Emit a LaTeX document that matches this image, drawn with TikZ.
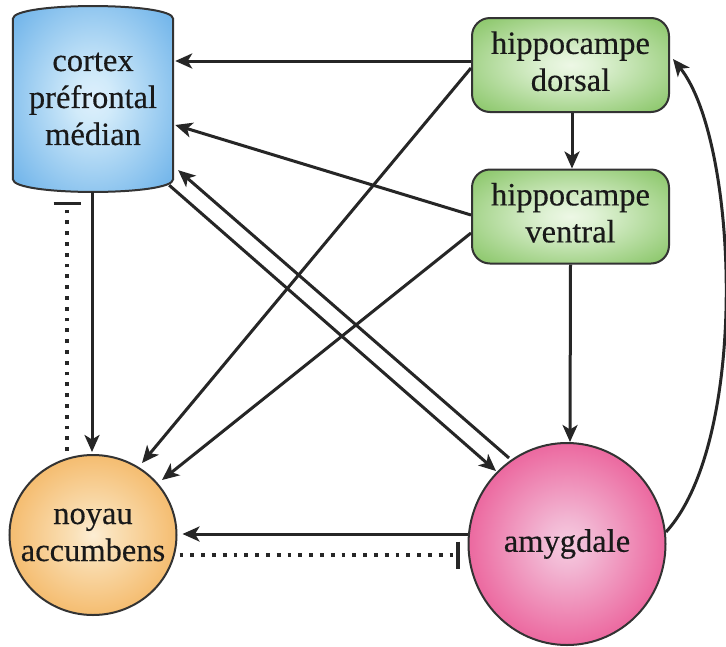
\documentclass[tikz,border=0pt]{standalone}
\usepackage{fontspec}
\setmainfont{Liberation Serif}
\newfontfamily\heavyserif{Liberation Serif}[FakeBold=0.35]
\usetikzlibrary{arrows.meta,shapes.geometric,calc,backgrounds}
\pgfdeclareradialshading{shblue}{\pgfpoint{0bp}{0bp}}{rgb(0bp)=(0.87,0.94,0.99);rgb(6bp)=(0.82,0.92,0.98);rgb(40bp)=(0.34,0.65,0.90);rgb(70bp)=(0.26,0.57,0.86)}
\pgfdeclareradialshading{shgreen}{\pgfpoint{0bp}{0bp}}{rgb(0bp)=(0.93,0.97,0.90);rgb(6bp)=(0.88,0.95,0.84);rgb(40bp)=(0.47,0.74,0.32);rgb(70bp)=(0.40,0.68,0.26)}
\pgfdeclareradialshading{shorange}{\pgfpoint{0bp}{0bp}}{rgb(0bp)=(0.99,0.93,0.83);rgb(6bp)=(0.98,0.88,0.72);rgb(44bp)=(0.94,0.60,0.16);rgb(50bp)=(0.92,0.56,0.12)}
\pgfdeclareradialshading{shpink}{\pgfpoint{0bp}{0bp}}{rgb(0bp)=(0.97,0.80,0.88);rgb(6bp)=(0.95,0.72,0.83);rgb(44bp)=(0.90,0.10,0.42);rgb(50bp)=(0.88,0.06,0.38)}
\begin{document}
\begin{tikzpicture}[x=1pt,y=-1pt,
  txt/.style={font=\heavyserif\fontsize{32.5}{37}\selectfont, text=black!90, align=center},
  shapebox/.style={inner sep=0pt, draw=black!80, line width=2pt},
  hippo/.style={txt, shapebox, rectangle, rounded corners=18pt, minimum width=197pt, minimum height=94pt, shading=shgreen},
  conn/.style={line width=3pt, draw=black!85, -{Stealth[length=17pt,width=15pt,inset=4.5pt]}},
  inh/.style={line width=3.8pt, draw=black!85, dash pattern=on 3.8pt off 7pt, -{Bar[width=27pt,line width=3.2pt]}}]
\useasboundingbox (0,0) rectangle (726,646);
\node[txt, inner sep=0pt, minimum width=160pt, minimum height=186pt] (cortex) at (93,99) {cortex\\préfrontal\\médian};
\begin{scope}[on background layer]
\fill[white] (0,0) rectangle (726,646);
\shade[shading=shblue, draw=black!80, line width=2pt]
  ($(cortex.north west)+(0,13)$) .. controls ($(cortex.north west)+(0,-4)$) and ($(cortex.north east)+(0,-4)$) .. ($(cortex.north east)+(0,13)$)
  -- ($(cortex.south east)+(0,-13)$) .. controls ($(cortex.south east)+(0,4)$) and ($(cortex.south west)+(0,4)$) .. ($(cortex.south west)+(0,-13)$) -- cycle;
\end{scope}
\node[hippo] (dorsal) at (570.5,65) {\raisebox{-3pt}{\begin{tabular}{@{}c@{}}hippocampe\\dorsal\end{tabular}}};
\node[hippo] (ventral) at (570.5,216.5) {\raisebox{-2pt}{\begin{tabular}{@{}c@{}}hippocampe\\ventral\end{tabular}}};
\node[shapebox, ellipse, minimum width=167pt, minimum height=160pt, shading=shorange,
  label={[txt, inner sep=0pt]center:noyau\\accumbens}] (noyau) at (93,535) {};
\node[shapebox, ellipse, minimum width=197pt, minimum height=202pt, shading=shpink,
  label={[txt, inner sep=0pt]center:amygdale}] (amyg) at (567,544) {};
% connectors
\draw[conn] ($(dorsal.west)+(0,-4)$) -- ($(cortex.east)+(2,-38)$);
\draw[conn] ($(ventral.west)+(0,-1.5)$) -- ($(cortex.east)+(2,26)$);
\draw[conn] ($(amyg.center)+(-58,-86)$) -- ($(cortex.south east)+(5,-22)$);
\draw[conn] ($(cortex.south east)+(-4,-7)$) -- ($(amyg.center)+(-71,-73)$);
\draw[conn] ($(dorsal.west)+(0,3)$) -- ($(noyau.center)+(49,-72)$);
\draw[conn] ($(ventral.west)+(0,16.5)$) -- ($(noyau.center)+(69,-55)$);
\draw[conn] ($(cortex.south)+(-1,0)$) -- ($(noyau.north)+(-1,-2)$);
\draw[conn] ($(dorsal.south)+(1.5,0)$) -- ($(ventral.north)+(1.5,0)$);
\draw[conn] (ventral.south) -- ($(amyg.north)+(3,0)$);
\draw[conn] ($(amyg.west)+(0,-10)$) -- ($(noyau.east)+(5,-1)$);
\draw[conn] ($(amyg.center)+(99,-12)$) .. controls (750,440) and (738,140) .. ($(dorsal.east)+(3,-6)$);
\draw[inh] ($(noyau.north)+(-26,-3)$) -- ($(cortex.south)+(-26,10)$);
\draw[inh] ($(noyau.east)+(2,20)$) -- ($(amyg.west)+(-8,11)$);
\end{tikzpicture}
\end{document}
